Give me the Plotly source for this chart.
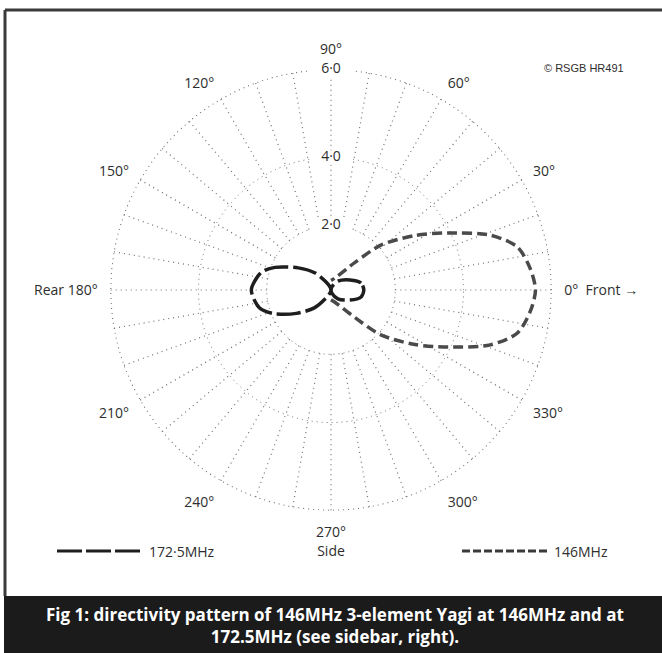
import numpy as np
import plotly.graph_objects as go

# ---------------- data ----------------
# 146 MHz pattern (forward lobe), angle in degrees, relative gain on chart scale
theta_146 = [270, 288, 311, 318, 327, 334, 341, 347, 354, 0, 6, 13, 19, 26, 33, 42, 49, 72, 90]
r_146 = [0.30, 0.40, 1.14, 2.08, 3.05, 3.93, 4.82, 5.34, 5.55, 5.64, 5.55, 5.34, 4.82, 3.93, 3.05, 2.08, 1.14, 0.39, 0.30]

# 172.5 MHz pattern (reverse main lobe + small forward lobe)
theta_172 = [0, 13, 28, 52, 75, 90, 105, 122, 133, 146, 158, 166, 180,
             194, 202, 214, 227, 238, 255, 270, 285, 308, 332, 347, 360]
r_172 = [1.02, 0.96, 0.67, 0.35, 0.10, 0.00, 0.08, 0.29, 0.72, 1.23, 1.88, 2.23, 2.45,
         2.28, 1.95, 1.30, 0.76, 0.30, 0.08, 0.00, 0.10, 0.35, 0.67, 0.96, 1.02]

ring_values = [2, 4, 6]
ring_labels = ["2·0", "4·0", "6·0"]
angle_ticks = [0, 30, 60, 90, 120, 150, 180, 210, 240, 270, 300, 330]
angle_labels = ["0°  Front →", "30°", "60°", "90°", "120°", "150°", "Rear 180°",
                "210°", "240°", "270°<br>Side", "300°", "330°"]
series_names = ["146MHz", "172·5MHz"]
caption = ("Fig 1: directivity pattern of 146MHz 3-element Yagi at 146MHz and at<br>"
           "172.5MHz (see sidebar, right).")
credit = "© RSGB HR491"

# chart's (non-linear) radial scale: gain value -> relative radius
scale_val = [0, 2, 4, 6]
scale_pos = [0, 6 * 64.5 / 221, 6 * 133 / 221, 6]


def to_r(v):
    return np.interp(np.asarray(v, dtype=float), scale_val, scale_pos)


FONT = "Open Sans"
GRID = "#707070"
TXT = "#2e2e2e"

fig = go.Figure()

# spokes every 10 degrees, from the 2.0 ring outward
sp_t, sp_r = [], []
for a in range(0, 360, 10):
    sp_t += [a, a, None]
    sp_r += [to_r(2), to_r(6), None]
fig.add_trace(go.Scatterpolar(r=sp_r, theta=sp_t, mode="lines",
                              line=dict(color=GRID, width=1.2, dash="1px,4px"),
                              hoverinfo="skip", showlegend=False))

# outer ring (6.0) drawn as a dotted circle
ring_t = list(range(0, 361, 2))
fig.add_trace(go.Scatterpolar(r=[to_r(6)] * len(ring_t), theta=ring_t, mode="lines",
                              line=dict(color=GRID, width=1.2, dash="1px,4px"),
                              hoverinfo="skip", showlegend=False))

fig.add_trace(go.Scatterpolar(r=to_r(r_146), theta=theta_146, mode="lines", name=series_names[0],
                              line=dict(color="#4a4a4a", width=3.5, dash="10px,5px", shape="spline",
                                        smoothing=0.8),
                              showlegend=False))
fig.add_trace(go.Scatterpolar(r=to_r(r_172), theta=theta_172, mode="lines", name=series_names[1],
                              line=dict(color="#1e1e1e", width=3.5, dash="24px,5px", shape="spline",
                                        smoothing=0.8),
                              showlegend=False))

# ring value labels on the 90 degree line, with white knock-out
fig.add_trace(go.Scatterpolar(r=to_r(ring_values), theta=[90] * len(ring_values),
                              mode="markers+text", text=ring_labels, textposition="middle center",
                              textfont=dict(family=FONT, size=14, color=TXT),
                              marker=dict(symbol="line-ew", size=30, color="white",
                                          line=dict(color="white", width=14)),
                              hoverinfo="skip", showlegend=False))

fig.update_layout(
    width=662, height=653,
    margin=dict(l=0, r=0, t=0, b=0),
    paper_bgcolor="white",
    showlegend=False,
    polar=dict(
        domain=dict(x=[110 / 662, 552 / 662], y=[1 - 511 / 653, 1 - 69 / 653]),
        bgcolor="white",
        radialaxis=dict(range=[0, 6.02], tickvals=list(to_r(ring_values[:2])), showticklabels=False,
                        ticks="", showline=False, gridcolor=GRID, gridwidth=1.2,
                        griddash="1px,4px"),
        angularaxis=dict(rotation=0, direction="counterclockwise", tickmode="array",
                         tickvals=angle_ticks, ticktext=angle_labels, ticks="outside",
                         ticklen=9, tickcolor="rgba(0,0,0,0)",
                         showgrid=False, showline=False,
                         tickfont=dict(family=FONT, size=14, color=TXT)),
    ),
)

# frame and caption band
fig.add_shape(type="line", xref="paper", yref="paper", x0=5 / 662, x1=5 / 662,
              y0=1 - 596 / 653, y1=1 - 10 / 653, line=dict(color="#3a3a3a", width=3))
fig.add_shape(type="line", xref="paper", yref="paper", x0=5 / 662, x1=1,
              y0=1 - 10 / 653, y1=1 - 10 / 653, line=dict(color="#3a3a3a", width=3))
fig.add_shape(type="rect", xref="paper", yref="paper", x0=4 / 662, x1=1,
              y0=0, y1=1 - 596 / 653, line=dict(width=0), fillcolor="#1b1b1b")

# legend samples
fig.add_shape(type="line", xref="paper", yref="paper", x0=57 / 662, x1=140 / 662,
              y0=1 - 551 / 653, y1=1 - 551 / 653, line=dict(color="#1e1e1e", width=3, dash="25px,4px"))
fig.add_shape(type="line", xref="paper", yref="paper", x0=462 / 662, x1=547 / 662,
              y0=1 - 551 / 653, y1=1 - 551 / 653, line=dict(color="#3a3a3a", width=3, dash="8px,3px"))
fig.add_annotation(x=147 / 662, y=1 - 551 / 653, xref="paper", yref="paper", text=series_names[1],
                   showarrow=False, xanchor="left", yanchor="middle",
                   font=dict(family=FONT, size=14, color=TXT))
fig.add_annotation(x=552 / 662, y=1 - 551 / 653, xref="paper", yref="paper", text=series_names[0],
                   showarrow=False, xanchor="left", yanchor="middle",
                   font=dict(family=FONT, size=14, color=TXT))

fig.add_annotation(x=542 / 662, y=1 - 68 / 653, xref="paper", yref="paper", text=credit,
                   showarrow=False, xanchor="left", yanchor="middle",
                   font=dict(family="Liberation Sans", size=11, color=TXT))

fig.add_annotation(x=335 / 662, y=1 - 625.5 / 653, xref="paper", yref="paper", text=caption,
                   showarrow=False, xanchor="center", yanchor="middle", align="center",
                   font=dict(family="Open Sans", size=17, color="white", weight="bold"))

fig.write_html("out.html", config={"displayModeBar": False},
               post_script="document.body.style.margin='0';")
